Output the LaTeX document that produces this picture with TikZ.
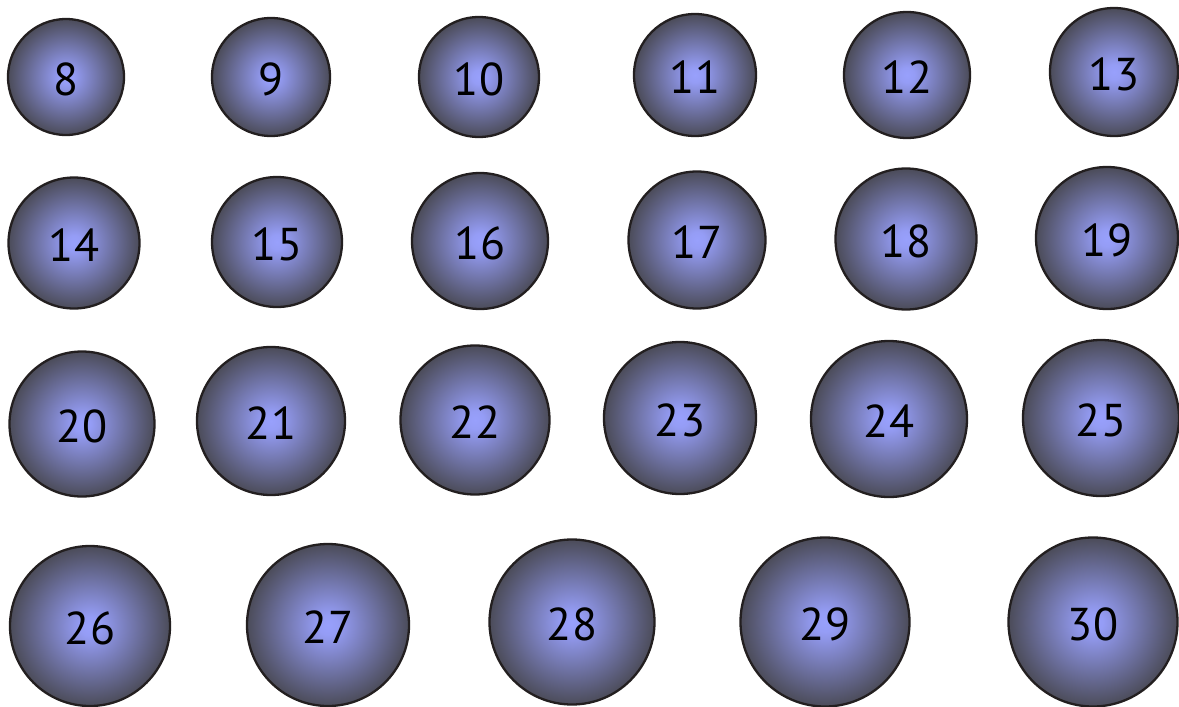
\documentclass[tikz,border=0pt]{standalone}
\usepackage{fontspec}
\setmainfont{PT Sans}
\definecolor{ballin}{RGB}{152,160,252}
\definecolor{ballout}{RGB}{72,72,82}
\definecolor{ballrim}{RGB}{35,31,32}
\pgfdeclareradialshading{ball}{\pgfpoint{0bp}{0bp}}{color(0bp)=(ballin); color(3bp)=(ballin!96!ballout); color(26bp)=(ballout); color(50bp)=(ballout)}
\tikzset{
  ball/.style={circle, draw=ballrim, line width=2.3pt, shading=ball, inner sep=0pt,
    minimum size=#1, font=\fontsize{46}{46}\selectfont, text=black,
    text height=36pt, text depth=0pt}
}
\begin{document}
\begin{tikzpicture}[x=1pt,y=-1pt]
\useasboundingbox (0,0) rectangle (1179,707);
% row 1
\node[ball=116pt] (n8)  at (66,77)   {8};
\node[ball=118pt] (n9)  at (271,77)  {9};
\node[ball=120pt] (n10) at (479,77)  {10};
\node[ball=122pt] (n11) at (695,75)  {11};
\node[ball=126pt] (n12) at (907,75)  {12};
\node[ball=128pt] (n13) at (1114,72) {13};
% row 2
\node[ball=131pt] (n14) at (74,243)  {14};
\node[ball=130pt] (n15) at (277,242) {15};
\node[ball=136pt] (n16) at (480,241) {16};
\node[ball=137pt] (n17) at (697,240) {17};
\node[ball=141pt] (n18) at (906,239) {18};
\node[ball=142pt] (n19) at (1107,238) {19};
% row 3
\node[ball=145pt] (n20) at (82,424)  {20};
\node[ball=148pt] (n21) at (271,421) {21};
\node[ball=149pt] (n22) at (475,420) {22};
\node[ball=152pt] (n23) at (680,418) {23};
\node[ball=156pt] (n24) at (889,419) {24};
\node[ball=156pt] (n25) at (1101,418) {25};
% row 4
\node[ball=160pt] (n26) at (90,626)  {26};
\node[ball=162pt] (n27) at (328,625) {27};
\node[ball=165pt] (n28) at (572,622) {28};
\node[ball=169pt] (n29) at (825,622) {29};
\node[ball=169pt] (n30) at (1093,622) {30};
\end{tikzpicture}
\end{document}
